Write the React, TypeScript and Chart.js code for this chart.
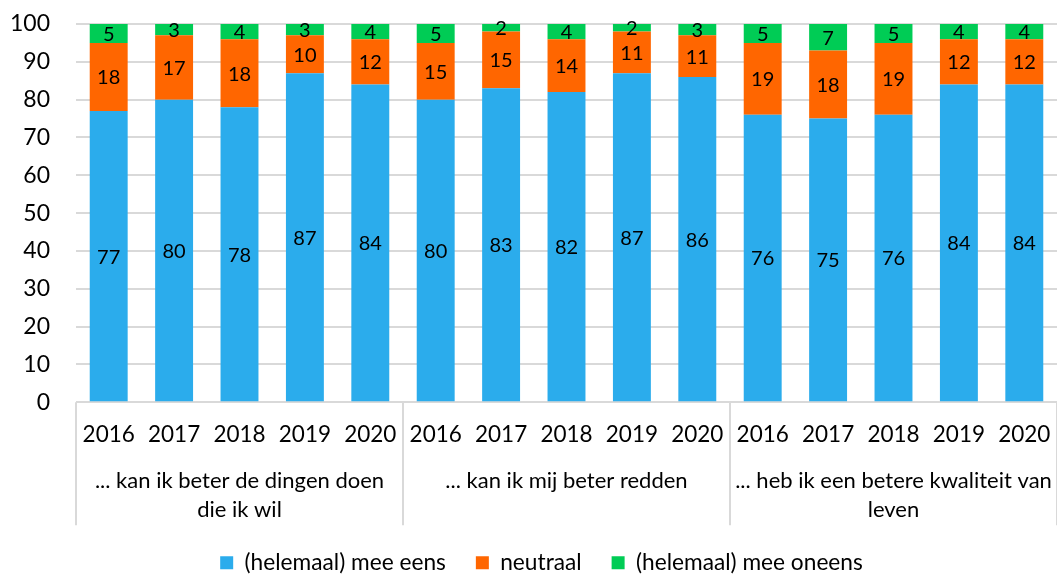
import React, { useEffect, useRef } from 'react';
import { Chart, registerables } from 'chart.js';

Chart.register(...registerables);

const years = ['2016', '2017', '2018', '2019', '2020', '2016', '2017', '2018', '2019', '2020', '2016', '2017', '2018', '2019', '2020'];
const groups = [
  ['... kan ik beter de dingen doen', 'die ik wil'],
  ['... kan ik mij beter redden'],
  ['... heb ik een betere kwaliteit van', 'leven'],
];
const agree = [77, 80, 78, 87, 84, 80, 83, 82, 87, 86, 76, 75, 76, 84, 84];
const neutral = [18, 17, 18, 10, 12, 15, 15, 14, 11, 11, 19, 18, 19, 12, 12];
const disagree = [5, 3, 4, 3, 4, 5, 2, 4, 2, 3, 5, 7, 5, 4, 4];
const seriesNames = ['(helemaal) mee eens', 'neutraal', '(helemaal) mee oneens'];
const colors = ['#2BACEC', '#FF6600', '#00CC55'];
const yTicks = [0, 10, 20, 30, 40, 50, 60, 70, 80, 90, 100];

const FONT = 'Lato, "Open Sans", sans-serif';

const valueLabels = {
  id: 'valueLabels',
  afterDatasetsDraw(chart: any) {
    const ctx = chart.ctx;
    ctx.save();
    ctx.font = `20px ${FONT}`;
    ctx.fillStyle = '#000';
    ctx.textAlign = 'center';
    ctx.textBaseline = 'middle';
    chart.data.datasets.forEach((ds: any, di: number) => {
      const meta = chart.getDatasetMeta(di);
      meta.data.forEach((el: any, i: number) => {
        const p = el.getProps(['x', 'y', 'base'], true);
        ctx.fillText(String(ds.data[i]), p.x, (p.y + p.base) / 2 + 1);
      });
    });
    ctx.restore();
  },
};

const separators = {
  id: 'separators',
  afterDraw(chart: any) {
    const x = chart.scales.x;
    const y = chart.scales.y;
    const ctx = chart.ctx;
    const y0 = y.getPixelForValue(0);
    ctx.save();
    ctx.strokeStyle = '#D9D9D9';
    ctx.lineWidth = 2;
    for (let g = 0; g <= groups.length; g++) {
      const px = Math.round(x.getPixelForValue(g * 5 - 0.5));
      ctx.beginPath();
      ctx.moveTo(px, y0);
      ctx.lineTo(px, y0 + 123);
      ctx.stroke();
    }
    ctx.restore();
  },
};

const legendShift = {
  id: 'legendShift',
  afterLayout(chart: any) {
    const l = chart.legend;
    if (l) {
      l.left += 13;
      l.right += 13;
    }
  },
};

export default function App() {
  const ref = useRef<HTMLCanvasElement>(null);
  useEffect(() => {
    document.body.style.margin = '0';
    const groupLabels = years.map((_, i) => (i % 5 === 2 ? groups[Math.floor(i / 5)] : ''));
    const datasets = [agree, neutral, disagree].map((d, i) => ({
      label: seriesNames[i],
      data: d,
      backgroundColor: colors[i],
      stack: 's',
    }));
    const chart = new Chart(ref.current!, {
      type: 'bar',
      data: { labels: years, datasets },
      options: {
        animation: false,
        responsive: false,
        layout: { padding: { top: 24, bottom: 0, left: 0, right: 0 } },
        datasets: { bar: { barPercentage: 0.58, categoryPercentage: 1 } },
        scales: {
          x: {
            stacked: true,
            offset: true,
            grid: { display: false, drawTicks: false },
            border: { display: false },
            ticks: { color: '#000', font: { family: FONT, size: 22.5 }, padding: 18.5, autoSkip: false, maxRotation: 0, minRotation: 0 },
            afterFit: (s: any) => { s.height = 50; s.paddingLeft = 0; s.paddingRight = 0; },
          },
          x2: {
            type: 'category',
            position: 'bottom',
            weight: 1,
            labels: groupLabels as any,
            offset: true,
            grid: { display: false, drawTicks: false },
            border: { display: false },
            ticks: { color: '#000', font: { family: FONT, size: 22, lineHeight: 1.32 }, padding: 14.5, autoSkip: false, maxRotation: 0, minRotation: 0 },
            afterFit: (s: any) => { s.height = 69; s.paddingLeft = 0; s.paddingRight = 0; },
          },
          y: {
            stacked: true,
            min: 0,
            max: 100,
            afterBuildTicks: (s: any) => { s.ticks = yTicks.map((v) => ({ value: v })); },
            ticks: { color: '#000', font: { family: FONT, size: 23 }, padding: 26 },
            grid: { color: '#D9D9D9', lineWidth: 2, drawTicks: false },
            border: { display: false },
            afterFit: (s: any) => { s.width = 76; s.paddingTop = 0; s.paddingBottom = 0; },
          },
        } as any,
        plugins: {
          legend: {
            position: 'bottom',
            labels: { boxWidth: 13, boxHeight: 13, padding: 30, color: '#000', font: { family: FONT, size: 22.7 } },
          },
          tooltip: { enabled: false },
        },
      },
      plugins: [valueLabels, separators, legendShift],
    });
    return () => chart.destroy();
  }, []);
  return (
    <div style={{ position: 'fixed', left: 0, top: 0, width: 1057, height: 574, overflow: 'hidden' }}>
      <canvas ref={ref} width={1057} height={584} />
    </div>
  );
}
